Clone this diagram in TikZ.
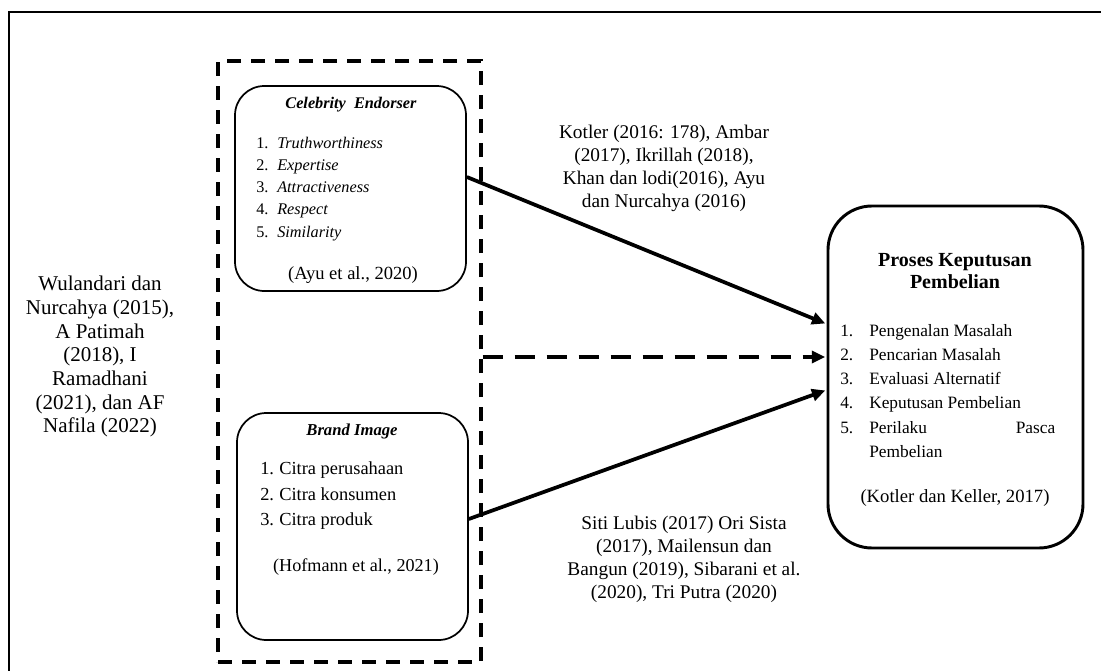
\documentclass[tikz,border=0pt]{standalone}
\usepackage{fontspec}
\setmainfont{Liberation Serif}
\usetikzlibrary{arrows.meta}

\newcommand{\numitem}[3]{\makebox[#1][l]{#2}#3}

\begin{document}
\begin{tikzpicture}[x=0.75pt,y=0.75pt,yscale=-1,xscale=1,
        varbox/.style={draw, rounded corners=22pt, line width=1.3pt, inner sep=0pt},
        refline/.style={line width=2.8pt, -{Triangle[length=10pt,width=9pt]}, shorten >=1pt},
        lbl/.style={inner sep=0pt, align=center}]
        \useasboundingbox (0,0) rectangle (1101,671);
        % frame
        \draw [line width=1.5pt] (9,671) -- (9,12) -- (1101,12) ;
        % boxes
        \draw (349.5,361.5) node [draw, dash pattern=on 10.5pt off 7.5pt, line width=2.4pt, inner sep=0pt, minimum width=197.25pt, minimum height=450.75pt] (grp) {};
        \draw (350.5,188.5) node [varbox, minimum width=173.25pt, minimum height=153.75pt] (ce) {};
        \draw (352.5,526.5) node [varbox, minimum width=173.25pt, minimum height=170.25pt] (bi) {};
        \draw (955.5,377) node [varbox, rounded corners=33pt, line width=2.2pt, minimum width=191.25pt, minimum height=256.5pt] (kp) {};
        % connectors
        \draw [refline] (ce.east |- 0,177) -- (kp.west |- 0,324) ;
        \draw [refline] (bi.east |- 0,519) -- (kp.west |- 0,390) ;
        \draw [refline, dash pattern=on 15pt off 9pt] (grp.east |- 0,357) -- (kp.west |- 0,357) ;
        % texts
        \draw (351,97) node [anchor=north][lbl, font=\fontsize{12.2}{14}\selectfont] (cetitle) {\textbf{\textit{Celebrity\ \ Endorser}}};
        \draw (256,137) node [anchor=north west][inner sep=0pt, align=left, font=\fontsize{12.2}{16.6}\selectfont] (celist) {\numitem{15.75pt}{1.}{\textit{Truthworthiness}}\\\numitem{15.75pt}{2.}{\textit{Expertise}}\\\numitem{15.75pt}{3.}{\textit{Attractiveness}}\\\numitem{15.75pt}{4.}{\textit{Respect}}\\\numitem{15.75pt}{5.}{\textit{Similarity}}};
        \draw (353,266.5) node [anchor=north][lbl, font=\fontsize{13.9}{16}\selectfont] (ceref) {(Ayu et al., 2020)};
        \draw (352,424) node [anchor=north][lbl, font=\fontsize{12.5}{14}\selectfont] (bititle) {\textbf{\textit{Brand Image}}};
        \draw (260,461.5) node [anchor=north west][inner sep=0pt, align=left, font=\fontsize{13.8}{19.1}\selectfont] (bilist) {\numitem{14.25pt}{1.}{Citra perusahaan}\\\numitem{14.25pt}{2.}{Citra konsumen}\\\numitem{14.25pt}{3.}{Citra produk}};
        \draw (356,558.7) node [anchor=north][lbl, font=\fontsize{13.6}{16}\selectfont] (biref) {(Hofmann et al., 2021)};
        \draw (955,253) node [anchor=north][lbl, font=\fontsize{15}{16.5}\selectfont] (kptitle) {\textbf{Proses Keputusan}\\\textbf{Pembelian}};
        \draw (840,324) node [anchor=north west][inner sep=0pt, align=left, font=\fontsize{13}{18.15}\selectfont] (kplist) {\numitem{21.75pt}{1.}{Pengenalan Masalah}\\\numitem{21.75pt}{2.}{Pencarian Masalah}\\\numitem{21.75pt}{3.}{Evaluasi Alternatif}\\\numitem{21.75pt}{4.}{Keputusan Pembelian}\\\numitem{21.75pt}{5.}{\makebox[139.5pt][l]{Perilaku\hfill Pasca}}\\\hspace*{21.75pt}Pembelian};
        \draw (955,489.5) node [anchor=north][lbl, font=\fontsize{14}{16}\selectfont] (kpref) {(Kotler dan Keller, 2017)};
        \draw (100,276) node [anchor=north][lbl, font=\fontsize{15.75}{17.75}\selectfont] (wulandari) {Wulandari dan\\Nurcahya (2015),\\A Patimah\\(2018), I\\Ramadhani\\(2021), dan AF\\Nafila (2022)};
        \draw (664,125) node [anchor=north][lbl, font=\fontsize{14.5}{17.25}\selectfont] (kotler) {Kotler (2016: 178), Ambar\\(2017), Ikrillah (2018),\\Khan dan lodi(2016), Ayu\\dan Nurcahya (2016)};
        \draw (684,516) node [anchor=north][lbl, font=\fontsize{14.5}{17.25}\selectfont] (siti) {Siti Lubis (2017) Ori Sista\\(2017), Mailensun dan\\Bangun (2019), Sibarani et al.\\(2020), Tri Putra (2020)};
\end{tikzpicture}
\end{document}
